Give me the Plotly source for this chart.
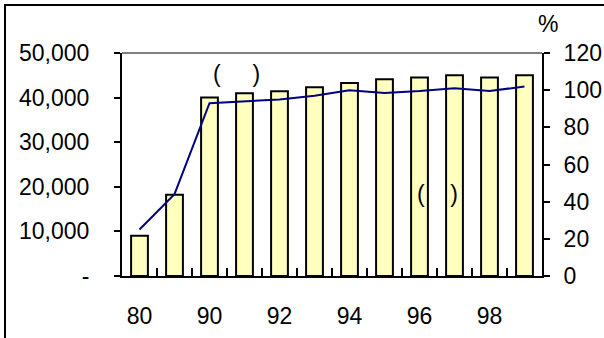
import plotly.graph_objects as go

# Yearly values: bars on the left axis, ratio line (%) on the right axis
years = ["80", "85", "90", "91", "92", "93", "94", "95", "96", "97", "98", "99"]
bar_values = [9000, 18200, 40000, 41000, 41400, 42300, 43300, 44100, 44500, 45000, 44500, 45000]
line_values = [25, 44, 93, 94, 95, 97, 100, 98.5, 99.5, 101, 99.5, 102]

x_tick_text = [y if i % 2 == 0 else "" for i, y in enumerate(years)]
left_ticks = [0, 10000, 20000, 30000, 40000, 50000]
left_tick_text = ["-", "10,000", "20,000", "30,000", "40,000", "50,000"]
right_ticks = [0, 20, 40, 60, 80, 100, 120]

FONT = "Liberation Sans, Arial, sans-serif"
FS = 23

fig = go.Figure()
fig.add_trace(go.Bar(
    x=years, y=bar_values, width=0.48,
    marker=dict(color="#FFFFC0", line=dict(color="black", width=2)),
    yaxis="y", showlegend=False,
))
fig.add_trace(go.Scatter(
    x=years, y=line_values, mode="lines",
    line=dict(color="#000080", width=2),
    yaxis="y2", showlegend=False,
))

fig.update_layout(
    width=604, height=338,
    margin=dict(l=122, r=62, t=53, b=62),
    paper_bgcolor="white", plot_bgcolor="white",
    font=dict(family=FONT, size=FS, color="black"),
    xaxis=dict(
        type="category", categoryorder="array", categoryarray=years,
        tickvals=years, ticktext=x_tick_text, tickson="boundaries",
        ticks="inside", ticklen=8, tickwidth=2, tickcolor="black",
        showline=True, linecolor="black", linewidth=2, tickangle=0,
        showgrid=False, zeroline=False, ticklabelstandoff=18,
        range=[-0.5, len(years) - 0.5], automargin=False,
    ),
    yaxis=dict(
        range=[0, 50000], tickvals=left_ticks, ticktext=left_tick_text,
        ticks="outside", ticklen=6, tickwidth=2, tickcolor="black",
        showline=True, linecolor="black", linewidth=2, automargin=False,
        showgrid=False, zeroline=False, ticklabelstandoff=20,
    ),
    yaxis2=dict(
        range=[0, 120], tickvals=right_ticks, overlaying="y", side="right",
        ticks="outside", ticklen=6, tickwidth=2, tickcolor="black",
        showline=True, linecolor="black", linewidth=2, automargin=False,
        showgrid=False, zeroline=False, ticklabelstandoff=9,
    ),
    shapes=[
        # gray top edge of the plot area
        dict(type="line", xref="x domain", yref="y domain", x0=0, x1=1, y0=1, y1=1,
             line=dict(color="#808080", width=2)),
        # outer frame around the whole chart
        dict(type="rect", xref="paper", yref="paper",
             x0=(5 - 122) / 420, x1=(620 - 122) / 420,
             y0=(276 - 360) / 223, y1=(276 - 5) / 223,
             line=dict(color="black", width=2), fillcolor="rgba(0,0,0,0)"),
    ],
    annotations=[
        dict(text="%", xref="paper", yref="paper", x=(548 - 122) / 420, y=(276 - 24) / 223,
             showarrow=False, xanchor="center", yanchor="middle", font=dict(size=FS)),
        dict(text="(\u00a0\u00a0\u00a0\u00a0\u00a0)", xref="paper", yref="paper",
             x=(236 - 122) / 420, y=(276 - 74) / 223,
             showarrow=False, xanchor="center", yanchor="middle", font=dict(size=FS)),
        dict(text="(\u00a0\u00a0\u00a0\u00a0)", xref="paper", yref="paper",
             x=(437 - 122) / 420, y=(276 - 194) / 223,
             showarrow=False, xanchor="center", yanchor="middle", font=dict(size=FS)),
    ],
)

fig.write_html("out.html")
